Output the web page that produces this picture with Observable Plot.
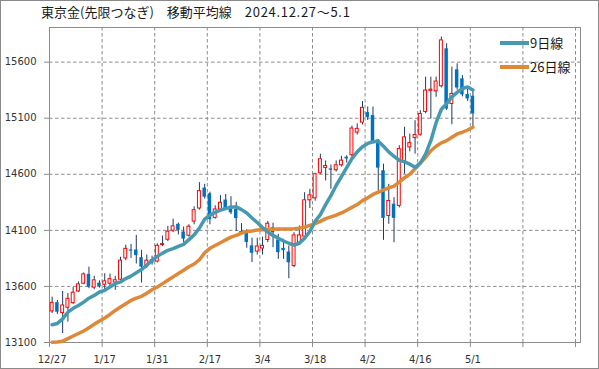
<!DOCTYPE html>
<html><head><meta charset="utf-8">
<script src="https://cdn.jsdelivr.net/npm/d3@7"></script>
<script src="https://cdn.jsdelivr.net/npm/@observablehq/plot@0.6"></script>
<style>
body{margin:0;background:#fff;}
#wrap{position:relative;width:599px;height:369px;overflow:hidden;background:#fff;}
#chart{position:absolute;left:0;top:0;}
.title{position:absolute;left:41px;top:4px;font-family:"Noto Sans CJK JP";font-size:13px;line-height:16px;color:#1a1a1a;white-space:nowrap;}
.title .d{letter-spacing:0.7px;}
.leg{position:absolute;left:500px;height:14px;display:flex;align-items:center;font-family:"Noto Sans CJK JP";font-size:13px;line-height:14px;color:#1a1a1a;white-space:nowrap;}
.sw{display:inline-block;width:29px;height:3.5px;margin-right:1px;}
#border{position:absolute;left:0;top:0;width:599px;height:369px;box-sizing:border-box;border:1px solid #8a8a8a;pointer-events:none;}
</style></head>
<body>
<div id="wrap">
  <div id="chart"></div>
  <div class="title">東京金(先限つなぎ)　移動平均線　<span class="d">2024.12.27～5.1</span></div>
  <div class="leg" style="top:36px"><span class="sw" style="background:#4699B0"></span>9日線</div>
  <div class="leg" style="top:60px"><span class="sw" style="background:#DE8838"></span>26日線</div>
  <div id="border"></div>
</div>
<script>
const dates = ["12/27","12/30","1/6","1/7","1/8","1/9","1/10","1/14","1/15","1/16",
"1/17","1/20","1/21","1/22","1/23","1/24","1/27","1/28","1/29","1/30",
"1/31","2/3","2/4","2/5","2/6","2/7","2/10","2/12","2/13","2/14",
"2/17","2/18","2/19","2/20","2/21","2/25","2/26","2/27","2/28","3/3",
"3/4","3/5","3/6","3/7","3/10","3/11","3/12","3/13","3/14","3/17",
"3/18","3/19","3/21","3/24","3/25","3/26","3/27","3/28","3/31","4/1",
"4/2","4/3","4/4","4/7","4/8","4/9","4/10","4/11","4/14","4/15",
"4/16","4/17","4/18","4/21","4/22","4/23","4/24","4/25","4/28","4/30","5/1"];

const open = [13377,13455,13362,13410,13451,13555,13624,13707,13589,13630,
13615,13624,13635,13660,13850,13925,13925,13856,13780,13840,
13822,13970,14016,14097,14154,14085,14052,14178,14295,14477,
14426,14211,14286,14370,14316,14286,14090,14076,13962,13911,
13938,14014,14124,14014,13939,13907,13782,13990,14044,14368,
14386,14609,14657,14648,14636,14680,14752,14770,14972,15061,
15150,15124,14905,14631,14228,14333,14318,14705,14840,14923,
14953,15156,15344,15340,15385,15719,15227,15531,15451,15311,15296];
const high = [13504,13475,13555,13537,13590,13640,13720,13772,13690,13650,
13713,13710,13690,13860,13968,13975,14055,13922,13880,13870,
13980,14050,14135,14200,14165,14130,14150,14310,14525,14510,
14440,14320,14410,14420,14400,14350,14160,14106,14031,14030,
14040,14180,14163,14064,14020,13960,14079,14140,14436,14466,
14610,14779,14719,14683,14719,14760,14765,15030,15050,15249,
15200,15200,14910,14690,14511,14392,14855,15019,14959,15078,
15167,15466,15466,15466,15824,15764,15555,15585,15480,15361,15346];
const low = [13359,13350,13180,13281,13440,13545,13615,13580,13570,13585,
13565,13580,13565,13650,13830,13850,13800,13630,13760,13790,
13810,13955,14000,14080,14060,13990,14040,14150,14280,14380,
14150,14200,14270,14280,14240,14090,14060,13941,13813,13880,
13880,13990,13945,13841,13841,13669,13767,13980,14030,14294,
14360,14600,14541,14466,14620,14665,14700,14750,14950,15040,
15080,14870,14450,14011,14154,13990,14300,14601,14800,14780,
14940,15140,15093,15287,15370,15170,15042,15350,15290,15250,15018];
const close = [13454,13370,13430,13490,13544,13618,13707,13594,13654,13600,
13645,13665,13655,13830,13935,13915,13875,13772,13830,13805,
13962,13978,14088,14136,14100,14022,14133,14280,14450,14396,
14196,14286,14346,14292,14256,14205,14075,13992,13896,13956,
13962,14159,14079,13901,13919,13811,14055,14055,14368,14413,
14600,14734,14674,14636,14680,14722,14737,15008,15005,15192,
15106,14883,14655,14207,14362,14207,14825,14929,14878,14950,
15138,15347,15355,15427,15794,15182,15317,15370,15308,15272,15138];
const ma9 = [13258,13270,13310,13370,13405,13430,13460,13495,13520,13550,
13565,13595,13625,13640,13670,13692,13722,13750,13790,13832,
13868,13897,13922,13937,13957,13975,14017,14060,14120,14200,
14235,14260,14280,14295,14305,14310,14285,14255,14210,14170,
14125,14085,14055,14030,14005,13985,13968,13985,14030,14090,
14180,14240,14330,14410,14500,14580,14660,14740,14800,14845,
14875,14890,14895,14850,14800,14760,14725,14712,14690,14662,
14700,14780,14900,15060,15180,15230,15290,15330,15365,15378,15352];
const ma26 = [13103,13105,13112,13135,13158,13180,13203,13232,13262,13292,
13318,13350,13386,13416,13446,13475,13496,13512,13540,13570,
13595,13625,13655,13685,13715,13745,13775,13800,13838,13900,
13940,13965,13990,14015,14040,14055,14075,14090,14095,14103,
14106,14108,14110,14112,14112,14112,14114,14120,14128,14145,
14160,14180,14205,14220,14235,14255,14280,14305,14330,14365,
14390,14420,14440,14460,14478,14495,14530,14570,14600,14650,
14700,14750,14810,14850,14880,14900,14930,14960,14975,14995,15020];
const yTicks = [13100,13600,14100,14600,15100,15600];

const data = dates.map((d,i)=>({i, date:d, open:open[i], high:high[i], low:low[i], close:close[i], ma9:ma9[i], ma26:ma26[i]}));
const up = data.filter(d=>d.close>=d.open);
const down = data.filter(d=>d.close<d.open);
const cx = d => d.i + 0.5;
const slots = 100;
const tickIdx = d3.range(0, slots + 1, 10);
const labelPos = d3.range(0, dates.length, 10).map(i => i + 0.5);
const grid = "#8c8c8c";

const chart = Plot.plot({
  width: 599, height: 369,
  marginLeft: 49, marginRight: 19, marginTop: 27, marginBottom: 27,
  style: {fontFamily: "DejaVu Sans", fontSize: "10px", color: "#333", background: "transparent"},
  x: {domain: [0, slots], range: [49, 575]},
  y: {domain: [13100, 15909]},
  marks: [
    Plot.gridX(tickIdx.slice(1), {stroke: grid, strokeOpacity: 1, strokeDasharray: "3.5,2.5"}),
    Plot.gridY(yTicks.slice(1), {stroke: grid, strokeOpacity: 1, strokeDasharray: "3.5,2.5"}),
    Plot.frame({stroke: "#8c8c8c"}),
    Plot.axisY(yTicks, {tickSize: 5, tickPadding: 8, tickFormat: d => String(d), stroke: "#8c8c8c", fill: "#333"}),
    Plot.axisX(tickIdx, {tickSize: 5, tickFormat: () => "", stroke: "#8c8c8c"}),
    Plot.axisX(labelPos, {tickSize: 0, tickPadding: 13, tickFormat: v => dates[Math.round(v - 0.5)], fill: "#333"}),
    Plot.ruleX(data, {x: cx, y1: "low", y2: "high", stroke: "#1F3864", strokeWidth: 1}),
    Plot.rect(down, {x1: d => d.i + 0.5 - 0.33, x2: d => d.i + 0.5 + 0.33, y1: "open", y2: "close", fill: "#0070C0"}),
    Plot.rect(up, {x1: d => d.i + 0.5 - 0.28, x2: d => d.i + 0.5 + 0.28, y1: "open", y2: "close", fill: "white", stroke: "#FF0000", strokeWidth: 1}),
    Plot.line(data, {x: cx, y: "ma26", stroke: "#DE8838", strokeWidth: 3.5}),
    Plot.line(data, {x: cx, y: "ma9", stroke: "#4699B0", strokeWidth: 3.5})
  ]
});
document.getElementById("chart").appendChild(chart);
</script>
</body></html>
